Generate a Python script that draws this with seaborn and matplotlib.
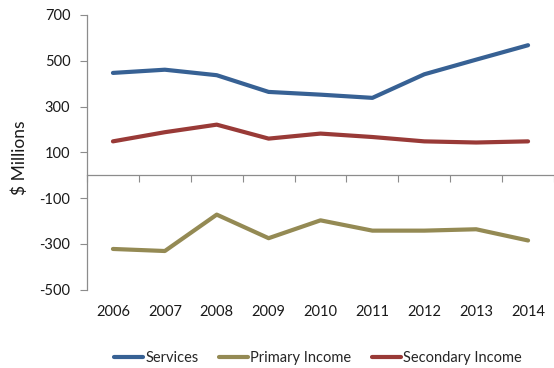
import matplotlib
matplotlib.use("Agg")
import matplotlib.pyplot as plt
import seaborn as sns
import pandas as pd

years = ["2006", "2007", "2008", "2009", "2010", "2011", "2012", "2013", "2014"]
services = [447, 461, 437, 364, 352, 338, 441, 505, 568]
primary_income = [-322, -331, -172, -275, -197, -242, -242, -236, -285]
secondary_income = [148, 188, 221, 160, 182, 167, 148, 143, 148]
series_names = ["Services", "Primary Income", "Secondary Income"]
y_ticks = [-500, -300, -100, 100, 300, 500, 700]

sns.set_theme(style="white")
plt.rcParams["font.family"] = ["Lato", "DejaVu Sans"]

rows = []
for name, vals in zip(series_names, [services, primary_income, secondary_income]):
    for i, (yr, v) in enumerate(zip(years, vals)):
        rows.append({"pos": i, "year": yr, "series": name, "value": v})
df = pd.DataFrame(rows)

palette = {"Services": "#376194", "Primary Income": "#948A54", "Secondary Income": "#993A37"}

fig = plt.figure(figsize=(5.54, 3.68), dpi=100)
ax = fig.add_axes([87 / 554, 1 - 289.7 / 368, 1 - 87 / 554, (289.7 - 15) / 368])

sns.lineplot(data=df, x="pos", y="value", hue="series", hue_order=series_names,
             palette=palette, linewidth=3.0, ax=ax, legend=True,
             solid_capstyle="round")

text_col = "#1a1a1a"
axis_grey = "#8c8c8c"
ax.set_xlim(-0.5, len(years) - 0.5)
ax.set_ylim(-500, 700)
ax.set_yticks(y_ticks)
ax.set_yticklabels([str(t) for t in y_ticks], fontsize=10.5, color=text_col)
ax.tick_params(axis="y", direction="out", length=5, width=0.8, color=axis_grey, pad=7, left=True)

# category axis crosses at zero; ticks mark category boundaries
for s in ["top", "right"]:
    ax.spines[s].set_visible(False)
ax.spines["left"].set_color(axis_grey)
ax.spines["left"].set_linewidth(0.9)
ax.spines["bottom"].set_position(("data", 0))
ax.spines["bottom"].set_color(axis_grey)
ax.spines["bottom"].set_linewidth(0.9)
ax.set_xticks([i - 0.5 for i in range(len(years) + 1)])
ax.set_xticklabels([])
ax.tick_params(axis="x", direction="out", length=5, width=0.8, color=axis_grey, bottom=True)

# year labels along the bottom of the plot area
sec = ax.secondary_xaxis("bottom")
sec.set_xticks(range(len(years)))
sec.set_xticklabels(years, fontsize=10.5, color=text_col)
sec.tick_params(length=0, pad=11)
sec.spines["bottom"].set_visible(False)

ax.set_xlabel("")
ax.set_ylabel("$ Millions", fontsize=12.5, color=text_col)
ax.yaxis.set_label_coords((20 - 87) / 467, (289.7 - 158) / 274.7)
ax.yaxis.label.set_verticalalignment("center")

handles, labels = ax.get_legend_handles_labels()
ax.legend(handles, labels, loc="center", bbox_to_anchor=(318 / 554, 1 - 358 / 368),
          bbox_transform=fig.transFigure, ncol=3, frameon=False, fontsize=10.5,
          handlelength=2.0, handletextpad=0.15, columnspacing=1.4)

fig.savefig("out.png", dpi=100)
